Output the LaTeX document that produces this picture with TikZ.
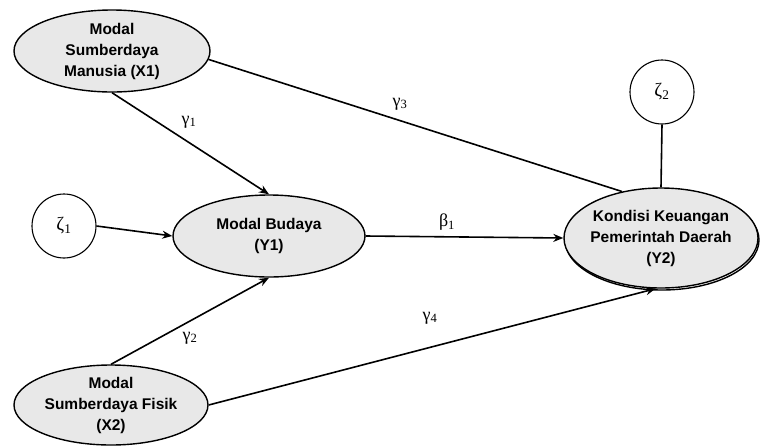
\documentclass[tikz,border=0pt]{standalone}
\usepackage{fontspec}
\setmainfont{Liberation Sans}
\newfontfamily\greekfont{Liberation Serif}
\usetikzlibrary{shapes.geometric,arrows.meta}
\definecolor{latentfill}{RGB}{232,232,232}
\tikzset{
  latent/.style={ellipse, draw=black, line width=1.4pt, fill=latentfill, inner sep=0pt},
  errcirc/.style={circle, draw=black, line width=1.1pt, fill=white, minimum size=64pt, inner sep=0pt,
    font=\greekfont\fontsize{19}{21}\selectfont},
  vartext/.style={align=center, font=\bfseries\fontsize{15.5}{21}\selectfont},
  path/.style={line width=1.6pt, -{Stealth[length=10pt,width=8pt]}},
  plain/.style={line width=1.6pt},
  coef/.style={font=\greekfont\fontsize{18}{20}\selectfont, inner sep=1pt}
}
\begin{document}
\begin{tikzpicture}[x=1pt,y=-1pt]
\useasboundingbox (0,0) rectangle (761,445);

% latent variables
\node[latent, minimum width=196pt, minimum height=82pt] (x1) at (112,51) {};
\node[vartext] (x1t) at (x1) {Modal\\Sumberdaya\\Manusia (X1)};

\node[latent, minimum width=192pt, minimum height=82pt] (y1) at (269,236) {};
\node[vartext] (y1t) at (y1) {Modal Budaya\\(Y1)};

% shadow under the dependent variable
\node[ellipse, draw=black, line width=1.4pt, minimum width=194pt, minimum height=100pt, inner sep=0pt] (y2s) at (662,240) {};
\node[latent, minimum width=194pt, minimum height=100pt] (y2) at (661,238) {};
\node[vartext] (y2t) at (y2) {Kondisi Keuangan\\Pemerintah Daerah\\(Y2)};

\node[latent, minimum width=194pt, minimum height=80pt] (x2) at (111,405) {};
\node[vartext] (x2t) at (x2) {Modal\\Sumberdaya Fisik\\(X2)};

% disturbance terms
\node[errcirc] (z1) at (64,226) {ζ\textsubscript{1}};
\node[errcirc] (z2) at (662,92) {ζ\textsubscript{2}};

% structural paths
\draw[path] (x1.south) -- (y1.north);
\draw[path] (x2.north) -- (y1.south);
\draw[path] (z1.east) -- (y1.west);
\draw[path] (y1.east) -- (y2.west);
\draw[plain] (x1.-5) -- (y2.130);
\draw[path] (x2.east) -- (y2.264);
\draw[plain] (z2.south) -- (y2.north);

% path coefficients
\node[coef] (g1) at (189,122) {γ\textsubscript{1}};
\node[coef] (g2) at (190,338) {γ\textsubscript{2}};
\node[coef] (g3) at (400,104) {γ\textsubscript{3}};
\node[coef] (g4) at (430,318) {γ\textsubscript{4}};
\node[coef] (b1) at (447,222) {β\textsubscript{1}};
\end{tikzpicture}
\end{document}
